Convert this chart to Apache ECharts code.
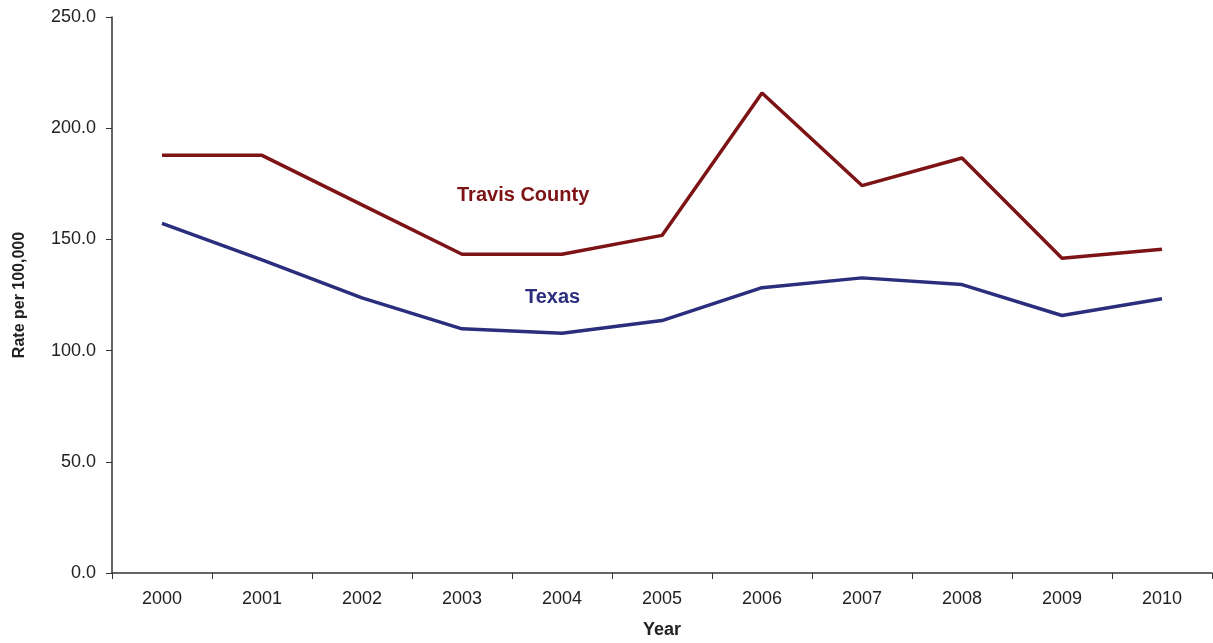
<!DOCTYPE html>
<html>
<head>
<meta charset="utf-8">
<script src="https://cdn.jsdelivr.net/npm/echarts@6/dist/echarts.min.js"></script>
<style>
  html, body { margin: 0; padding: 0; background: #fff; }
  #chart { width: 1213px; height: 643px; }
</style>
</head>
<body>
<div id="chart"></div>
<script>
var years = ['2000', '2001', '2002', '2003', '2004', '2005', '2006', '2007', '2008', '2009', '2010'];
var travis = [187.8, 187.8, 165.5, 143.3, 143.3, 151.8, 215.8, 174.2, 186.6, 141.5, 145.6];
var texas = [157.2, 140.8, 123.7, 109.8, 107.8, 113.5, 128.3, 132.7, 129.7, 115.8, 123.3];

var chart = echarts.init(document.getElementById('chart'));

var axisColor = '#333';
var font = 'Liberation Sans, Arial, sans-serif';

var option = {
    animation: false,
    grid: { left: 112, right: 1, top: 17, bottom: 70, outerBoundsMode: 'none', containLabel: false },
    xAxis: {
        type: 'category',
        data: years,
        boundaryGap: true,
        name: 'Year',
        nameLocation: 'middle',
        nameGap: 48,
        nameTextStyle: { fontFamily: font, fontSize: 18, fontWeight: 'bold', color: '#222' },
        axisLine: { lineStyle: { color: axisColor, width: 1.5 } },
        axisTick: { show: true, inside: false, length: 6, alignWithLabel: false, lineStyle: { color: axisColor } },
        axisLabel: { fontFamily: font, fontSize: 18, color: '#222', margin: 17 }
    },
    yAxis: {
        type: 'value',
        min: 0,
        max: 250,
        interval: 50,
        name: 'Rate per 100,000',
        nameLocation: 'middle',
        nameGap: 84,
        nameRotate: 90,
        nameTextStyle: { fontFamily: font, fontSize: 16, fontWeight: 'bold', color: '#222' },
        axisLine: { show: true, lineStyle: { color: axisColor, width: 1.5 } },
        axisTick: { show: true, length: 6, lineStyle: { color: axisColor } },
        splitLine: { show: false },
        axisLabel: {
            fontFamily: font, fontSize: 18, color: '#222', margin: 16,
            formatter: function (v) { return v.toFixed(1); }
        }
    },
    series: [{
        name: 'Travis County',
        type: 'line',
        data: travis,
        symbol: 'none',
        lineStyle: { color: '#7d1315', width: 3.5 },
        itemStyle: { color: '#7d1315' }
    }, {
        name: 'Texas',
        type: 'line',
        data: texas,
        symbol: 'none',
        lineStyle: { color: '#2a2e7c', width: 3.5 },
        itemStyle: { color: '#2a2e7c' }
    }],
    graphic: [{
        type: 'text',
        left: 457,
        top: 185,
        style: { text: 'Travis County', font: 'bold 20px ' + font, fill: '#7d1315' }
    }, {
        type: 'text',
        left: 525,
        top: 287,
        style: { text: 'Texas', font: 'bold 20px ' + font, fill: '#2a2e7c' }
    }]
};

chart.setOption(option);
</script>
</body>
</html>
